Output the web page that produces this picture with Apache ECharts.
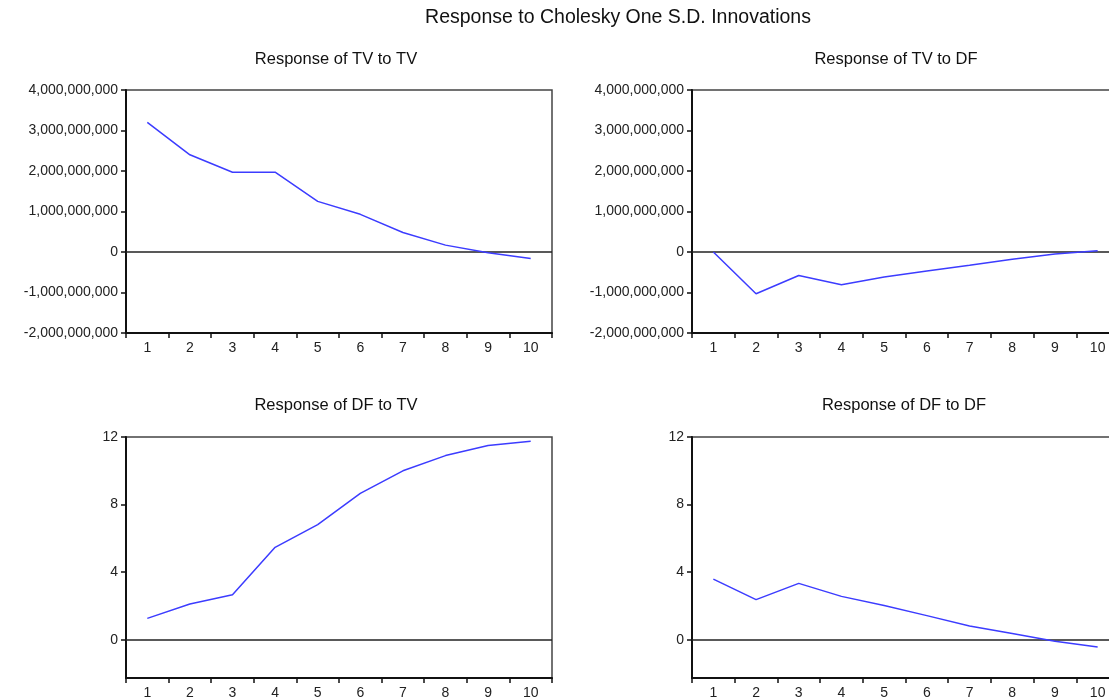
<!DOCTYPE html>
<html>
<head>
<meta charset="utf-8">
<script src="https://cdn.jsdelivr.net/npm/echarts@6/dist/echarts.min.js"></script>
<style>
html,body{margin:0;padding:0;background:#fff;overflow:hidden;width:1109px;height:700px;}
#c{width:1122px;height:700px;}
</style>
</head>
<body>
<div id="c"></div>
<script>
// ---- data ----
const periods = ['1','2','3','4','5','6','7','8','9','10'];
const tvToTv = [3.2e9, 2.4e9, 1.97e9, 1.97e9, 1.25e9, 0.93e9, 0.48e9, 0.17e9, -0.02e9, -0.16e9];
const tvToDf = [0, -1.03e9, -0.58e9, -0.81e9, -0.62e9, -0.47e9, -0.33e9, -0.18e9, -0.05e9, 0.03e9];
const dfToTv = [1.27, 2.12, 2.67, 5.47, 6.82, 8.66, 10.0, 10.9, 11.5, 11.75];
const dfToDf = [3.59, 2.38, 3.34, 2.57, 2.03, 1.43, 0.82, 0.37, -0.09, -0.42];
const dfTicks = [0, 4, 8, 12];
const mainTitle = 'Response to Cholesky One S.D. Innovations';
const panelTitles = ['Response of TV to TV', 'Response of TV to DF', 'Response of DF to TV', 'Response of DF to DF'];

const chart = echarts.init(document.getElementById('c'), null, {renderer: 'canvas'});
const FONT = '"Liberation Sans", Arial, sans-serif';
const LABEL = {color: '#222', fontFamily: FONT, fontSize: 14};

const grids = [
  {left: 126, top: 90, width: 426, height: 243},
  {left: 692, top: 90, width: 427, height: 243},
  {left: 126, top: 437, width: 426, height: 246},
  {left: 692, top: 437, width: 427, height: 246}
].map(g => Object.assign({show: true, borderColor: '#444', borderWidth: 1.5, containLabel: false}, g));

const xAxes = grids.map((g, i) => ({
  type: 'category', gridIndex: i, data: periods, boundaryGap: true,
  axisLine: {show: true, onZero: false, lineStyle: {color: '#111', width: 2}},
  axisTick: {show: true, interval: 0, inside: false, length: 5, lineStyle: {color: '#111', width: 1.5}},
  axisLabel: Object.assign({interval: 0, margin: 8}, LABEL),
  splitLine: {show: false}
}));

function fmt(v){ return Number(v).toLocaleString('en-US'); }

const yAxes = [0,1].map(i => ({
  type: 'value', gridIndex: i, min: -2e9, max: 4e9, interval: 1e9,
  axisLine: {show: true, lineStyle: {color: '#111', width: 2}},
  axisTick: {show: true, length: 5, lineStyle: {color: '#111', width: 1.5}},
  axisLabel: Object.assign({margin: 8, formatter: fmt}, LABEL),
  splitLine: {show: false}
})).concat([2,3].map(i => ({
  type: 'value', gridIndex: i, min: -2.26, max: 12,
  axisLine: {show: true, lineStyle: {color: '#111', width: 2}},
  axisTick: {show: true, length: 5, customValues: dfTicks, lineStyle: {color: '#111', width: 1.5}},
  axisLabel: Object.assign({margin: 8, customValues: dfTicks, formatter: fmt}, LABEL),
  splitLine: {show: false}
})));

const seriesData = [tvToTv, tvToDf, dfToTv, dfToDf];
const series = seriesData.map((d, i) => ({
  type: 'line', xAxisIndex: i, yAxisIndex: i, data: d,
  showSymbol: false, symbol: 'none', silent: true,
  lineStyle: {color: '#3c3cff', width: 1.5},
  z: 3,
  markLine: {
    silent: true, symbol: 'none', label: {show: false},
    lineStyle: {color: '#222', width: 1.5, type: 'solid'},
    data: [{yAxis: 0}], z: 2
  }
}));

const titleCenters = [[336, 59], [896, 59], [336, 405], [904, 405]];
const graphics = [{
  type: 'text', x: 618, y: 18,
  style: {text: mainTitle, fill: '#111', font: '19.5px ' + FONT, textAlign: 'center', textVerticalAlign: 'middle'}
}].concat(panelTitles.map((t, i) => ({
  type: 'text', x: titleCenters[i][0], y: titleCenters[i][1],
  style: {text: t, fill: '#111', font: '16.5px ' + FONT, textAlign: 'center', textVerticalAlign: 'middle'}
})));

chart.setOption({
  animation: false,
  backgroundColor: '#fff',
  grid: grids,
  xAxis: xAxes,
  yAxis: yAxes,
  series: series,
  graphic: graphics
});
</script>
</body>
</html>
